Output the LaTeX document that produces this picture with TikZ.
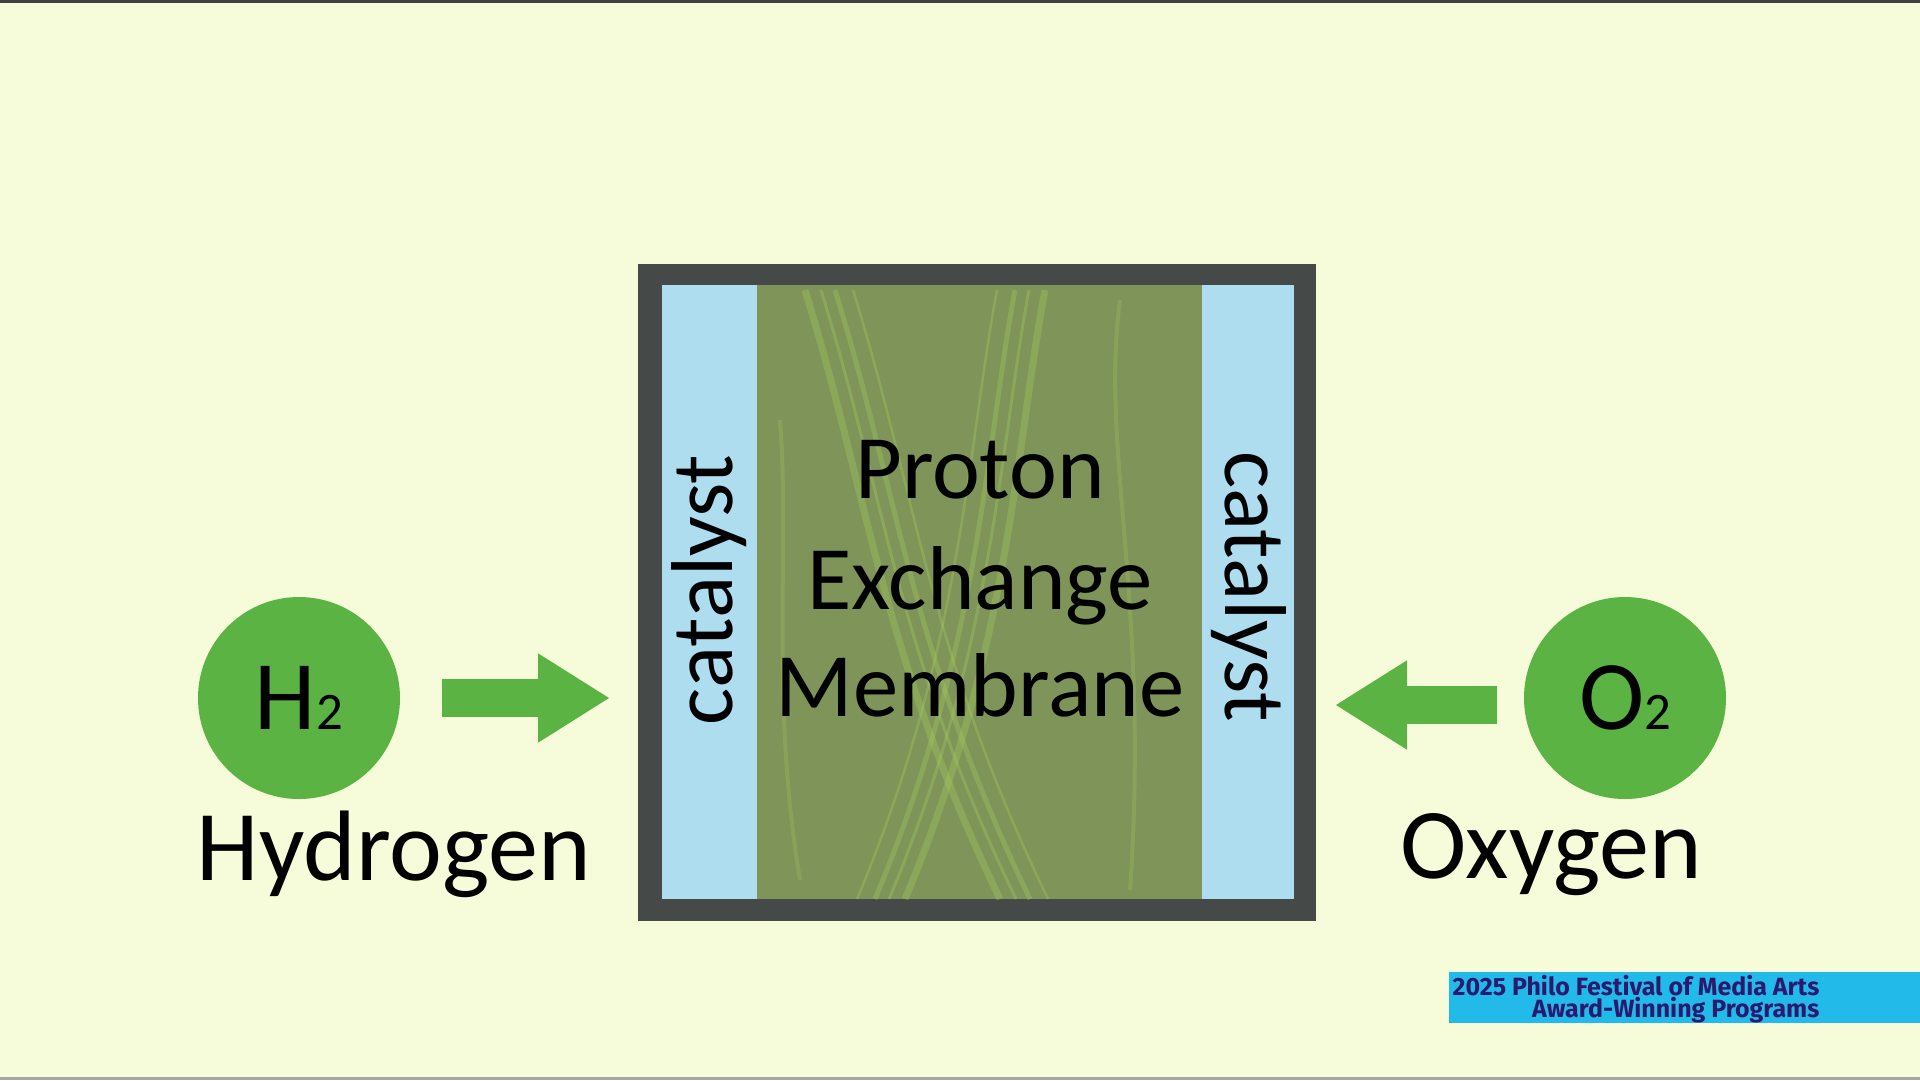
\documentclass[tikz,border=0pt]{standalone}
\usepackage{fontspec}
\setmainfont{Carlito}
\newfontfamily\badgefont{Fira Sans}
\usetikzlibrary{arrows.meta,positioning}
\definecolor{bgcream}{HTML}{F6FBDA}
\definecolor{framegray}{HTML}{454947}
\definecolor{catblue}{HTML}{AEDDF0}
\definecolor{pemgreen}{HTML}{7E9458}
\definecolor{streak}{HTML}{A6CC5C}
\definecolor{atomgreen}{HTML}{5AB342}
\definecolor{badgeblue}{HTML}{22BBE9}
\definecolor{badgeink}{HTML}{2B1870}

\begin{document}
\begin{tikzpicture}[x=0.1mm,y=-0.1mm,
    atom/.style={circle,fill=atomgreen,minimum size=20.2mm,inner sep=0pt,font=\fontsize{28}{28}\selectfont},
    gas/.style={font=\fontsize{28.5}{28.5}\selectfont,anchor=base,inner sep=0pt},
    cat/.style={font=\fontsize{25}{25}\selectfont},
    pem/.style={font=\fontsize{25.8}{25.8}\selectfont,anchor=base,inner sep=0pt},
    feed/.style={atomgreen,line width=3.8mm,-{Triangle[length=7.2mm,width=8.4mm]}},
    badge/.style={font=\badgefont\bfseries\fontsize{7.1}{7.1}\selectfont,text=badgeink,inner sep=0pt,anchor=base east}]
    \fill[bgcream] (0,0) rectangle (1920,1080);
    \fill[black!75] (0,0) rectangle (1920,3);
    \fill[black!35] (0,1077) rectangle (1920,1080);

    % fuel cell
    \fill[framegray] (638,264) rectangle (1316,921);
    \fill[pemgreen] (757,285) rectangle (1202,899);
    \fill[catblue] (662,285) rectangle (757,899);
    \fill[catblue] (1202,285) rectangle (1294,899);
    \begin{scope}
        \clip (757,285) rectangle (1202,899);
        \foreach \dx/\w in {0/0.7,16/0.3,30/0.5,48/0.25} {
            \draw[streak,opacity=.35,line width=\w mm] (805+\dx,290) .. controls (870+\dx,500) and (880+\dx,650) .. (1000+\dx,899);
            \draw[streak,opacity=.35,line width=\w mm] (1045-\dx,290) .. controls (1015-\dx,450) and (1010-\dx,650) .. (905-\dx,899);
        }
        \draw[streak,opacity=.25,line width=0.4mm] (1120,300) .. controls (1100,450) and (1150,600) .. (1130,890);
        \draw[streak,opacity=.25,line width=0.4mm] (780,420) .. controls (790,550) and (770,700) .. (800,880);
    \end{scope}
    \node[cat,rotate=90] (catL) at (709,590) {catalyst};
    \node[cat,rotate=-90] (catR) at (1249,587) {catalyst};
    \node[pem] (proton) at (980,498) {Proton};
    \node[pem] (exchange) at (980,609) {Exchange};
    \node[pem] (membrane) at (980,716) {Membrane};

    % gases
    \node[atom] (h2) at (299,698) {H{\fontsize{15}{15}\selectfont 2}};
    \node[atom] (o2) at (1625,698) {O{\fontsize{15}{15}\selectfont 2}};
    \node[gas] (hydrogen) at (394,880) {Hydrogen};
    \node[gas] (oxygen) at (1551,878) {Oxygen};
    \coordinate (h2out) at (442,698);
    \coordinate (h2in) at (610,698);
    \coordinate (o2out) at (1497,705);
    \coordinate (o2in) at (1335,705);
    \draw[feed] (h2out) -- (h2in);
    \draw[feed] (o2out) -- (o2in);

    % festival badge
    \fill[badgeblue] (1449,972) rectangle (1920,1023);
    \node[badge] (fest) at (1820,995) {2025 Philo Festival of Media Arts};
    \node[badge] (award) at (1820,1017) {Award-Winning Programs};
\end{tikzpicture}
\end{document}
